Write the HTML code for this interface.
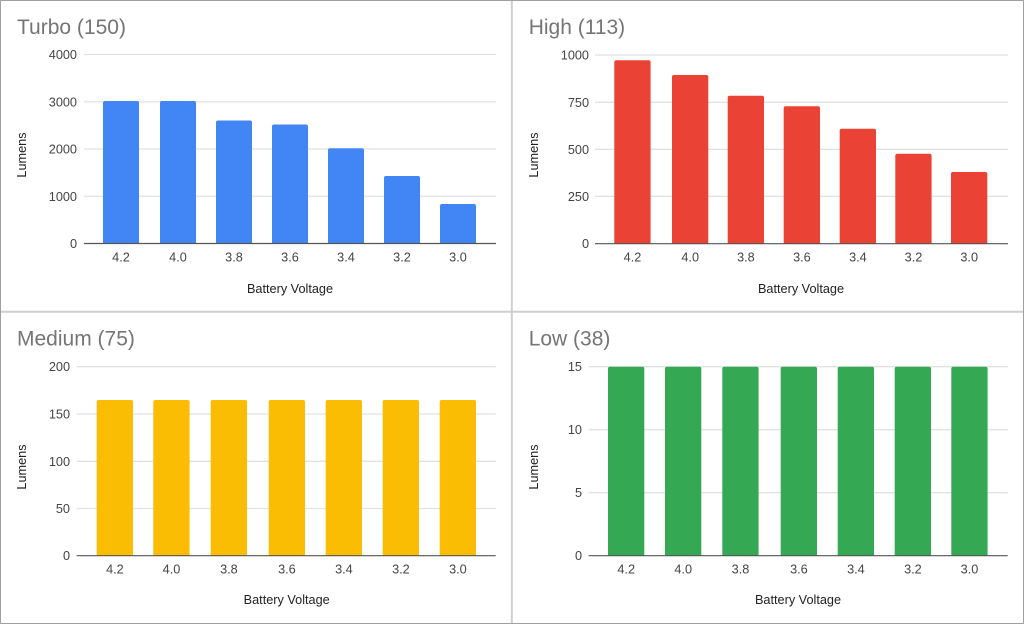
<!DOCTYPE html>
<html>
<head>
<meta charset="utf-8">
<style>
  html, body { margin:0; padding:0; background:#fff; }
  svg { display:block; }
  text { font-family: "Liberation Sans", Arial, sans-serif; }
  .title { font-size:21px; fill:#757575; }
  .tick { font-size:12.7px; fill:#444; }
  .axt { font-size:12.7px; fill:#222; }
  .grid { stroke:#e2e2e2; stroke-width:1.3; }
  .base { stroke:#555; stroke-width:1.2; }
</style>
</head>
<body>
<svg width="1024" height="624" viewBox="0 0 1024 624" xmlns="http://www.w3.org/2000/svg">
  <rect x="0" y="0" width="1024" height="624" fill="#fff"/>

  <!-- ================= TURBO ================= -->
  <text class="title" x="17" y="34">Turbo (150)</text>
  <g class="grid">
    <line x1="84" y1="54.5" x2="496" y2="54.5"/>
    <line x1="84" y1="101.75" x2="496" y2="101.75"/>
    <line x1="84" y1="149" x2="496" y2="149"/>
    <line x1="84" y1="196.25" x2="496" y2="196.25"/>
  </g>
  <g class="tick" text-anchor="end">
    <text x="77" y="59">4000</text>
    <text x="77" y="106.3">3000</text>
    <text x="77" y="153.5">2000</text>
    <text x="77" y="200.8">1000</text>
    <text x="77" y="248">0</text>
  </g>
  <g fill="#4285F4">
    <path d="M103,243.5 V103 Q103,101 105,101 H137 Q139,101 139,103 V243.5 Z"/>
    <path d="M160,243.5 V103 Q160,101 162,101 H194 Q196,101 196,103 V243.5 Z"/>
    <path d="M216,243.5 V122.5 Q216,120.5 218,120.5 H250 Q252,120.5 252,122.5 V243.5 Z"/>
    <path d="M272,243.5 V126.5 Q272,124.5 274,124.5 H306 Q308,124.5 308,126.5 V243.5 Z"/>
    <path d="M328,243.5 V150.3 Q328,148.3 330,148.3 H362 Q364,148.3 364,150.3 V243.5 Z"/>
    <path d="M384,243.5 V178 Q384,176 386,176 H418 Q420,176 420,178 V243.5 Z"/>
    <path d="M440,243.5 V206 Q440,204 442,204 H474 Q476,204 476,206 V243.5 Z"/>
  </g>
  <line class="base" x1="84" y1="243.5" x2="496" y2="243.5"/>
  <g class="tick" text-anchor="middle">
    <text x="121" y="261.5">4.2</text>
    <text x="178" y="261.5">4.0</text>
    <text x="234" y="261.5">3.8</text>
    <text x="290" y="261.5">3.6</text>
    <text x="346" y="261.5">3.4</text>
    <text x="402" y="261.5">3.2</text>
    <text x="458" y="261.5">3.0</text>
  </g>
  <text class="axt" x="290" y="293" text-anchor="middle">Battery Voltage</text>
  <text class="axt" text-anchor="middle" transform="translate(26.2,155) rotate(-90)">Lumens</text>

  <!-- ================= HIGH ================= -->
  <text class="title" x="528.7" y="34">High (113)</text>
  <g class="grid">
    <line x1="595" y1="55" x2="1008" y2="55"/>
    <line x1="595" y1="102.3" x2="1008" y2="102.3"/>
    <line x1="595" y1="149.3" x2="1008" y2="149.3"/>
    <line x1="595" y1="196.3" x2="1008" y2="196.3"/>
  </g>
  <g class="tick" text-anchor="end">
    <text x="589" y="59.5">1000</text>
    <text x="589" y="106.8">750</text>
    <text x="589" y="153.8">500</text>
    <text x="589" y="200.8">250</text>
    <text x="589" y="248.2">0</text>
  </g>
  <g fill="#EA4335">
    <path d="M614.3,243.7 V62.3 Q614.3,60.3 616.3,60.3 H648.6 Q650.6,60.3 650.6,62.3 V243.7 Z"/>
    <path d="M672,243.7 V77 Q672,75 674,75 H706.3 Q708.3,75 708.3,77 V243.7 Z"/>
    <path d="M727.7,243.7 V97.7 Q727.7,95.7 729.7,95.7 H762 Q764,95.7 764,97.7 V243.7 Z"/>
    <path d="M783.7,243.7 V108.3 Q783.7,106.3 785.7,106.3 H818 Q820,106.3 820,108.3 V243.7 Z"/>
    <path d="M839.7,243.7 V130.7 Q839.7,128.7 841.7,128.7 H874 Q876,128.7 876,130.7 V243.7 Z"/>
    <path d="M895.3,243.7 V155.7 Q895.3,153.7 897.3,153.7 H929.6 Q931.6,153.7 931.6,155.7 V243.7 Z"/>
    <path d="M951,243.7 V174 Q951,172 953,172 H985.3 Q987.3,172 987.3,174 V243.7 Z"/>
  </g>
  <line class="base" x1="595" y1="243.7" x2="1008" y2="243.7"/>
  <g class="tick" text-anchor="middle">
    <text x="632.5" y="261.5">4.2</text>
    <text x="690.2" y="261.5">4.0</text>
    <text x="745.9" y="261.5">3.8</text>
    <text x="801.9" y="261.5">3.6</text>
    <text x="857.9" y="261.5">3.4</text>
    <text x="913.5" y="261.5">3.2</text>
    <text x="969.2" y="261.5">3.0</text>
  </g>
  <text class="axt" x="801" y="293" text-anchor="middle">Battery Voltage</text>
  <text class="axt" text-anchor="middle" transform="translate(538.2,155) rotate(-90)">Lumens</text>

  <!-- ================= MEDIUM ================= -->
  <text class="title" x="17" y="345.7">Medium (75)</text>
  <g class="grid">
    <line x1="76.7" y1="366.7" x2="495.7" y2="366.7"/>
    <line x1="76.7" y1="414" x2="495.7" y2="414"/>
    <line x1="76.7" y1="461.3" x2="495.7" y2="461.3"/>
    <line x1="76.7" y1="508.5" x2="495.7" y2="508.5"/>
  </g>
  <g class="tick" text-anchor="end">
    <text x="70" y="371.2">200</text>
    <text x="70" y="418.5">150</text>
    <text x="70" y="465.8">100</text>
    <text x="70" y="513">50</text>
    <text x="70" y="560.2">0</text>
  </g>
  <g fill="#FBBC04">
    <path d="M96.7,555.7 V402 Q96.7,400 98.7,400 H131 Q133,400 133,402 V555.7 Z"/>
    <path d="M153.3,555.7 V402 Q153.3,400 155.3,400 H187.6 Q189.6,400 189.6,402 V555.7 Z"/>
    <path d="M210.7,555.7 V402 Q210.7,400 212.7,400 H245 Q247,400 247,402 V555.7 Z"/>
    <path d="M268.7,555.7 V402 Q268.7,400 270.7,400 H303 Q305,400 305,402 V555.7 Z"/>
    <path d="M325.7,555.7 V402 Q325.7,400 327.7,400 H360 Q362,400 362,402 V555.7 Z"/>
    <path d="M382.7,555.7 V402 Q382.7,400 384.7,400 H417 Q419,400 419,402 V555.7 Z"/>
    <path d="M439.7,555.7 V402 Q439.7,400 441.7,400 H474 Q476,400 476,402 V555.7 Z"/>
  </g>
  <line class="base" x1="76.7" y1="555.7" x2="495.7" y2="555.7"/>
  <g class="tick" text-anchor="middle">
    <text x="114.9" y="573.5">4.2</text>
    <text x="171.5" y="573.5">4.0</text>
    <text x="228.9" y="573.5">3.8</text>
    <text x="286.9" y="573.5">3.6</text>
    <text x="343.9" y="573.5">3.4</text>
    <text x="400.9" y="573.5">3.2</text>
    <text x="457.9" y="573.5">3.0</text>
  </g>
  <text class="axt" x="286.7" y="604" text-anchor="middle">Battery Voltage</text>
  <text class="axt" text-anchor="middle" transform="translate(26.2,467) rotate(-90)">Lumens</text>

  <!-- ================= LOW ================= -->
  <text class="title" x="528.7" y="345.7">Low (38)</text>
  <g class="grid">
    <line x1="588.7" y1="366.7" x2="1007.7" y2="366.7"/>
    <line x1="588.7" y1="429.7" x2="1007.7" y2="429.7"/>
    <line x1="588.7" y1="492.7" x2="1007.7" y2="492.7"/>
  </g>
  <g class="tick" text-anchor="end">
    <text x="582" y="371.2">15</text>
    <text x="582" y="434.2">10</text>
    <text x="582" y="497.2">5</text>
    <text x="582" y="560.2">0</text>
  </g>
  <g fill="#34A853">
    <path d="M608,555.7 V368.7 Q608,366.7 610,366.7 H642.3 Q644.3,366.7 644.3,368.7 V555.7 Z"/>
    <path d="M665,555.7 V368.7 Q665,366.7 667,366.7 H699.3 Q701.3,366.7 701.3,368.7 V555.7 Z"/>
    <path d="M722.3,555.7 V368.7 Q722.3,366.7 724.3,366.7 H756.6 Q758.6,366.7 758.6,368.7 V555.7 Z"/>
    <path d="M780.7,555.7 V368.7 Q780.7,366.7 782.7,366.7 H815 Q817,366.7 817,368.7 V555.7 Z"/>
    <path d="M837.7,555.7 V368.7 Q837.7,366.7 839.7,366.7 H872 Q874,366.7 874,368.7 V555.7 Z"/>
    <path d="M894.7,555.7 V368.7 Q894.7,366.7 896.7,366.7 H929 Q931,366.7 931,368.7 V555.7 Z"/>
    <path d="M951.3,555.7 V368.7 Q951.3,366.7 953.3,366.7 H985.6 Q987.6,366.7 987.6,368.7 V555.7 Z"/>
  </g>
  <line class="base" x1="588.7" y1="555.7" x2="1007.7" y2="555.7"/>
  <g class="tick" text-anchor="middle">
    <text x="626.2" y="573.5">4.2</text>
    <text x="683.2" y="573.5">4.0</text>
    <text x="740.5" y="573.5">3.8</text>
    <text x="798.9" y="573.5">3.6</text>
    <text x="855.9" y="573.5">3.4</text>
    <text x="912.9" y="573.5">3.2</text>
    <text x="969.5" y="573.5">3.0</text>
  </g>
  <text class="axt" x="798" y="604" text-anchor="middle">Battery Voltage</text>
  <text class="axt" text-anchor="middle" transform="translate(538.2,467) rotate(-90)">Lumens</text>

  <!-- ================= BORDERS ================= -->
  <line x1="511.8" y1="0" x2="511.8" y2="624" stroke="#cfcfcf" stroke-width="2"/>
  <line x1="0" y1="311.8" x2="1024" y2="311.8" stroke="#cfcfcf" stroke-width="2"/>
  <rect x="0.5" y="0.5" width="1023" height="623" fill="none" stroke="#a0a0a0" stroke-width="1"/>
</svg>
</body>
</html>
